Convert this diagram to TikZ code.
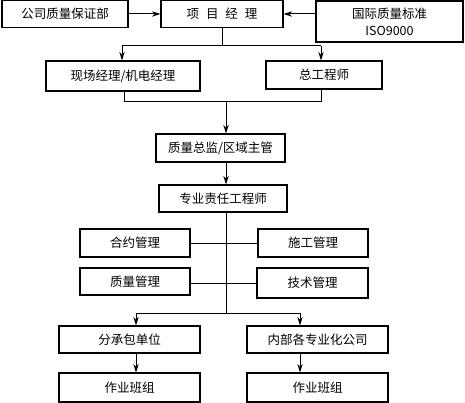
\documentclass[tikz,border=0pt]{standalone}
\usepackage{fontspec}
\setmainfont{Noto Sans CJK SC}
\usetikzlibrary{arrows.meta, positioning, calc}

\begin{document}
\begin{tikzpicture}[
        x=1pt, y=-1pt,
        box/.style={draw, line width=1.1pt, align=center, inner sep=0pt, font=\fontsize{12.5}{15}\selectfont},
        arrow/.style={-{Stealth[length=3mm, width=1.9mm]}, line width=1pt},
        link/.style={line width=1pt}
    ]
    \useasboundingbox (0,0) rectangle (465,403);
    \node[box, minimum width=126, minimum height=27] (qa) at (65,14) {公司质量保证部};
    \node[box, minimum width=122, minimum height=27] (pm) at (222,14) {项\hspace{0.55em}目\hspace{0.55em}经\hspace{0.55em}理};
    \node[box, minimum width=147, minimum height=41] (iso) at (389.5,21.5) {国际质量标准\\[2pt]ISO9000};
    \node[box, minimum width=154, minimum height=30] (site) at (123,76) {现场经理/机电经理};
    \node[box, minimum width=116, minimum height=28] (chief) at (324,75) {总工程师};
    \node[box, minimum width=129, minimum height=28] (qdir) at (220.5,148) {质量总监/区域主管};
    \node[box, minimum width=128, minimum height=27] (eng) at (223,198.5) {专业责任工程师};
    \node[box, minimum width=110, minimum height=28] (contract) at (135,243) {合约管理};
    \node[box, minimum width=110, minimum height=28] (constr) at (313,243) {施工管理};
    \node[box, minimum width=110, minimum height=27] (quality) at (135,281.5) {质量管理};
    \node[box, minimum width=111, minimum height=30] (tech) at (312.5,283) {技术管理};
    \node[box, minimum width=141, minimum height=27] (sub) at (129.5,339.5) {分承包单位};
    \node[box, minimum width=141, minimum height=27] (inner) at (317.5,339.5) {内部各专业化公司};
    \node[box, minimum width=141, minimum height=29] (team1) at (129.5,387.5) {作业班组};
    \node[box, minimum width=141, minimum height=29] (team2) at (317.5,387.5) {作业班组};
    \coordinate (j1) at (222,46);
    \coordinate (s1) at (122,46);
    \coordinate (s2) at (321,46);
    \coordinate (b1) at (124,102);
    \coordinate (b2) at (321,102);
    \coordinate (m1) at (226,102);
    \coordinate (m2) at (226,313);
    \coordinate (d1) at (136,313);
    \coordinate (d2) at (300,313);
    \draw[arrow] (qa.east) -- (qa.east -| pm.west);
    \draw[arrow] (iso.west |- pm.east) -- (pm.east);
    \draw[link] (pm.south -| j1) -- (j1);
    \draw[link] (s1) -- (s2);
    \draw[arrow] (s1) -- (s1 |- site.north);
    \draw[arrow] (s2) -- (s2 |- chief.north);
    \draw[link] (b1 |- site.south) -- (b1) -- (b2) -- (b2 |- chief.south);
    \draw[arrow] (m1) -- (m1 |- qdir.north);
    \draw[arrow] (qdir.south -| m1) -- (eng.north -| m1);
    \draw[link] (eng.south -| m1) -- (m2);
    \draw[link] (contract.east) -- (contract.east -| constr.west);
    \draw[link] (quality.east |- tech.west) -- (tech.west);
    \draw[link] (d1) -- (d2);
    \draw[arrow] (d1) -- (d1 |- sub.north);
    \draw[arrow] (d2) -- (d2 |- inner.north);
    \draw[arrow] (sub.south -| d1) -- (team1.north -| d1);
    \draw[arrow] (inner.south -| d2) -- (team2.north -| d2);
\end{tikzpicture}
\end{document}
